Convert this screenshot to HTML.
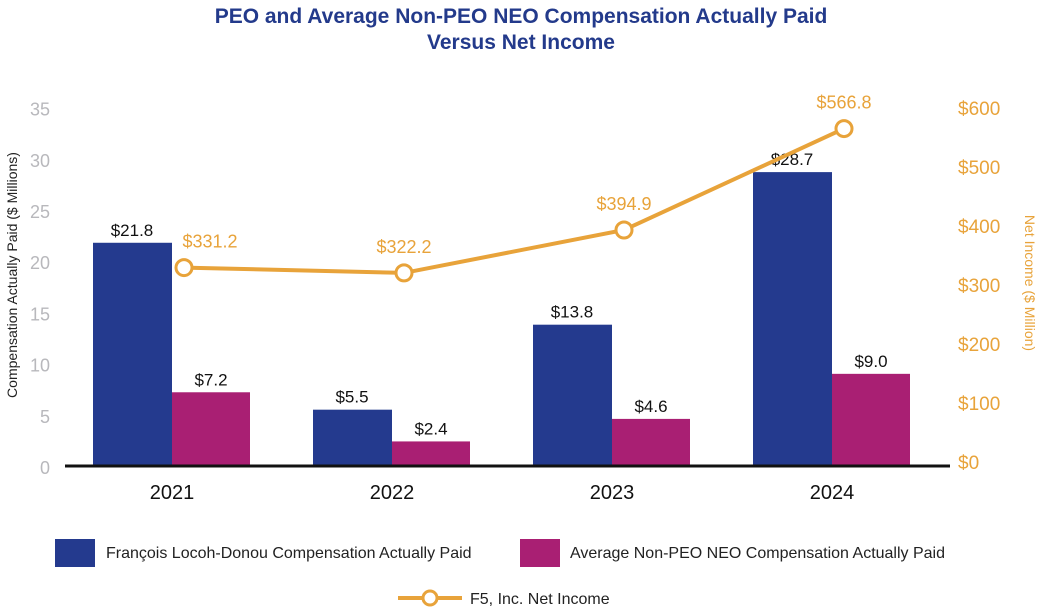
<!DOCTYPE html>
<html><head><meta charset="utf-8"><style>
body{margin:0;background:#fff;width:1042px;height:610px;overflow:hidden;font-family:"Liberation Sans",sans-serif}
</style></head><body>
<svg width="1042" height="610" font-family="Liberation Sans, sans-serif">
<text x="521" y="23" text-anchor="middle" font-size="21" font-weight="bold" fill="#233a8b">PEO and Average Non-PEO NEO Compensation Actually Paid</text>
<text x="521" y="49" text-anchor="middle" font-size="21" font-weight="bold" fill="#233a8b">Versus Net Income</text>
<g id="leftTicks"></g><g id="rightTicks"></g><g id="bars"></g><g id="line"></g>
<text transform="translate(17,275) rotate(-90)" text-anchor="middle" font-size="14" fill="#222">Compensation Actually Paid ($ Millions)</text>
<text transform="translate(1025,283) rotate(90)" text-anchor="middle" font-size="14" fill="#e8a33a">Net Income ($ Million)</text>
<line x1="65" y1="466" x2="950" y2="466" stroke="#111" stroke-width="3"/>
<g>
<rect x="55" y="539" width="40" height="28" fill="#243a8e"/>
<text x="106" y="558" font-size="16" fill="#222">François Locoh-Donou Compensation Actually Paid</text>
<rect x="520" y="539" width="40" height="28" fill="#a91f73"/>
<text x="570" y="558" font-size="16" fill="#222">Average Non-PEO NEO Compensation Actually Paid</text>
<line x1="398" y1="598" x2="462" y2="598" stroke="#e8a33a" stroke-width="4"/>
<circle cx="430" cy="598" r="7" fill="#fff" stroke="#e8a33a" stroke-width="3"/>
<text x="470" y="604" font-size="16" fill="#222">F5, Inc. Net Income</text>
</g>
</svg>
<script>
const years=["2021","2022","2023","2024"];
const peo=[21.8,5.5,13.8,28.7];
const neo=[7.2,2.4,4.6,9.0];
const netIncome=[331.2,322.2,394.9,566.8];
const leftTicks=[0,5,10,15,20,25,30,35];
const rightTicks=[0,100,200,300,400,500,600];
const NS="http://www.w3.org/2000/svg";
const yL=v=>466-v*10.24, yR=v=>463-v*0.59, xC=i=>172+i*220;
function mk(t,a,p,txt){const e=document.createElementNS(NS,t);for(const k in a)e.setAttribute(k,a[k]);if(txt!=null)e.textContent=txt;p.appendChild(e);return e;}
const g1=document.getElementById('leftTicks'),g2=document.getElementById('rightTicks'),gb=document.getElementById('bars'),gl=document.getElementById('line');
leftTicks.forEach(v=>{const t=mk('text',{x:50,y:yL(v)+8,'text-anchor':'end','font-size':18,fill:'#b8b8bc'},g1,String(v));

});
rightTicks.forEach(v=>{const t=mk('text',{x:958,y:yR(v)+6,'font-size':19,fill:'#e8a33a'},g2,'$'+v);

});
years.forEach((y,i)=>{const c=xC(i);
const b=mk('rect',{x:c-79,y:yL(peo[i]),width:79,height:466-yL(peo[i]),fill:'#243a8e'},gb);


const m=mk('rect',{x:c,y:yL(neo[i]),width:78,height:466-yL(neo[i]),fill:'#a91f73'},gb);


const l1=mk('text',{x:c-40,y:yL(peo[i])-7,'text-anchor':'middle','font-size':17,fill:'#111'},gb,'$'+peo[i].toFixed(1));


const l2=mk('text',{x:c+39,y:yL(neo[i])-7,'text-anchor':'middle','font-size':17,fill:'#111'},gb,'$'+neo[i].toFixed(1));


const yl=mk('text',{x:c,y:499,'text-anchor':'middle','font-size':20,fill:'#111'},gb,y);

});
const px=i=>xC(i)+12;
const pl=mk('polyline',{points:netIncome.map((v,i)=>px(i)+','+yR(v)).join(' '),fill:'none',stroke:'#e8a33a','stroke-width':4},gl);


netIncome.forEach((v,i)=>{const c=mk('circle',{cx:px(i),cy:yR(v),r:8,fill:'#fff',stroke:'#e8a33a','stroke-width':3},gl);


const t=mk('text',{x:px(i)+(i==0?26:0),y:yR(v)-20,'text-anchor':'middle','font-size':18,fill:'#e8a33a'},gl,'$'+v.toFixed(1));

});
</script>
</body></html>
